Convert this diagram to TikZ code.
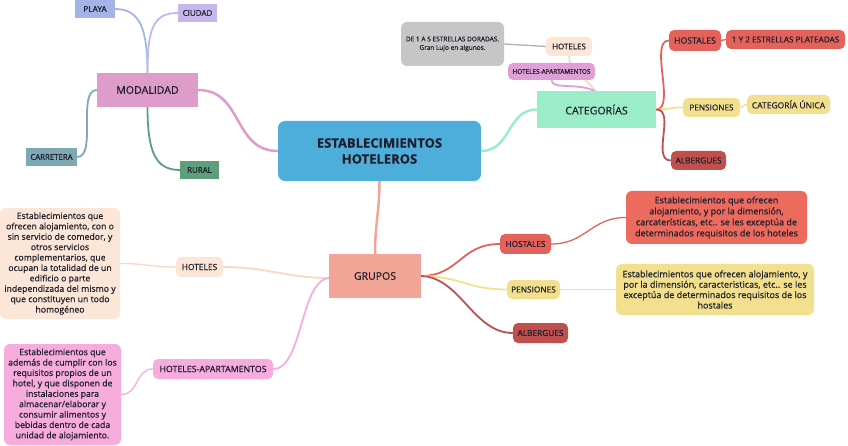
\documentclass[tikz,border=0pt]{standalone}
\usepackage{fontspec}
\setmainfont{Open Sans}[FakeBold=0.5]
\usetikzlibrary{backgrounds}
\hyphenpenalty=10000
\exhyphenpenalty=10000
\definecolor{cplaya}{HTML}{A3B5E6}
\definecolor{cciudad}{HTML}{C5B6EE}
\definecolor{cmod}{HTML}{DE9CCB}
\definecolor{ccarr}{HTML}{7EA9B4}
\definecolor{crural}{HTML}{5E9E7D}
\definecolor{ccen}{HTML}{4DAEDB}
\definecolor{cgray}{HTML}{C6C6C6}
\definecolor{cgrayline}{HTML}{B0B0B0}
\definecolor{cpeach}{HTML}{FCE6D8}
\definecolor{cpeachline}{HTML}{F6D9C6}
\definecolor{chap}{HTML}{DFA0D8}
\definecolor{ccat}{HTML}{9BEDCA}
\definecolor{cred}{HTML}{E3635C}
\definecolor{credd}{HTML}{EC6A5E}
\definecolor{cyel}{HTML}{F2E08E}
\definecolor{calb}{HTML}{C0504E}
\definecolor{cgrp}{HTML}{F2A496}
\definecolor{cpink}{HTML}{F6ACDC}
\definecolor{ctext}{HTML}{1E1E2A}
\tikzset{
  box/.style={draw=none, inner sep=0pt, align=center, text=ctext, font=\fontsize{8.5}{10}\selectfont},
  pill/.style={box, rounded corners=5pt},
  desc/.style={box, rounded corners=6pt, font=\fontsize{8.7}{10.4}\selectfont},
  link/.style={line width=1.8pt},
  thin/.style={line width=1.3pt},
  main/.style={line width=2.5pt},
}
\begin{document}
\begin{tikzpicture}[x=1pt,y=-1pt]
\useasboundingbox (0,0) rectangle (848,446);
% nodes
\node[box, fill=cplaya, minimum width=40pt, minimum height=18pt, font=\fontsize{8.3}{9}\selectfont] (playa) at (95,9) {PLAYA};
\node[box, fill=cciudad, minimum width=39pt, minimum height=18pt, font=\fontsize{8}{9}\selectfont] (ciudad) at (197.5,13) {CIUDAD};
\node[box, fill=cmod, minimum width=101pt, minimum height=34pt, font=\fontsize{10.6}{12}\selectfont] (mod) at (147.5,90) {MODALIDAD};
\node[box, fill=ccarr, minimum width=51pt, minimum height=18pt, font=\fontsize{7.8}{9}\selectfont] (carr) at (51.5,157) {CARRETERA};
\node[box, fill=crural, minimum width=39pt, minimum height=18pt, font=\fontsize{7.9}{9}\selectfont] (rural) at (199.5,170) {RURAL};
\node[box, fill=ccen, rounded corners=7pt, minimum width=203pt, minimum height=60pt, font=\fontsize{13}{16}\selectfont\bfseries] (cen) at (379.5,151) {ESTABLECIMIENTOS\\HOTELEROS};
\node[box, fill=cgray, rounded corners=6pt, minimum width=103pt, minimum height=44pt, font=\fontsize{6.5}{8.5}\selectfont] (gray) at (452.5,44) {DE 1 A 5 ESTRELLAS DORADAS.\\Gran Lujo en algunos.};
\node[pill, fill=cpeach, minimum width=46pt, minimum height=19pt, font=\fontsize{8}{9}\selectfont] (hott) at (569,46.5) {HOTELES};
\node[pill, fill=chap, minimum width=87pt, minimum height=17pt, font=\fontsize{6.4}{8}\selectfont] (hapt) at (551.5,71.5) {HOTELES-APARTAMENTOS};
\node[box, fill=ccat, minimum width=119pt, minimum height=37pt, font=\fontsize{10.6}{12}\selectfont] (cat) at (596.5,109.5) {CATEGORÍAS};
\node[pill, fill=cred, minimum width=52pt, minimum height=21pt, font=\fontsize{8.7}{10}\selectfont] (hostt) at (695,40.5) {HOSTALES};
\node[pill, fill=cred, minimum width=119pt, minimum height=19pt, font=\fontsize{8.2}{9}\selectfont] (estr) at (785.5,39.5) {1 Y 2 ESTRELLAS PLATEADAS};
\node[pill, fill=cyel, minimum width=57pt, minimum height=19pt, font=\fontsize{8.2}{9}\selectfont] (pent) at (711.5,107.5) {PENSIONES};
\node[pill, fill=cyel, minimum width=83pt, minimum height=19pt, font=\fontsize{8.5}{9}\selectfont] (unica) at (788.5,104.5) {CATEGORÍA ÚNICA};
\node[pill, fill=calb, minimum width=55pt, minimum height=19pt, font=\fontsize{8.3}{9}\selectfont] (albt) at (698.5,160.5) {ALBERGUES};
\node[box, fill=cgrp, minimum width=92pt, minimum height=44pt, font=\fontsize{10.5}{12}\selectfont] (grp) at (375,276) {GRUPOS};
\node[pill, fill=cpeach, minimum width=47pt, minimum height=20pt, font=\fontsize{8.4}{9}\selectfont] (hotl) at (199.5,267) {HOTELES};
\node[desc, fill=cpeach, minimum width=120pt, minimum height=111pt] (hotd) at (60,263.5) {Establecimientos que\\ofrecen alojamiento, con o\\sin servicio de comedor, y\\otros servicios\\complementarios, que\\ocupan la totalidad de un\\edificio o parte\\independizada del mismo y\\que constituyen un todo\\homogéneo};
\node[pill, fill=cpink, minimum width=120pt, minimum height=20pt, font=\fontsize{8.8}{10}\selectfont] (hapb) at (213,369) {HOTELES-APARTAMENTOS};
\node[desc, fill=cpink, minimum width=117pt, minimum height=101pt] (hapd) at (62.5,394.5) {Establecimientos que\\además de cumplir con los\\requisitos propios de un\\hotel, y que disponen de\\instalaciones para\\almacenar/elaborar y\\consumir alimentos y\\bebidas dentro de cada\\unidad de alojamiento.};
\node[pill, fill=cred, minimum width=51pt, minimum height=20pt, font=\fontsize{8.3}{9}\selectfont] (hostb) at (525.5,244) {HOSTALES};
\node[desc, fill=credd, minimum width=181pt, minimum height=53pt, font=\fontsize{9}{11}\selectfont] (hostd) at (716.5,217.5) {Establecimientos que ofrecen\\alojamiento, y por la dimensión,\\carcaterísticas, etc.. se les exceptúa de\\determinados requisitos de los hoteles};
\node[pill, fill=cyel, minimum width=53pt, minimum height=19pt, font=\fontsize{8.3}{9}\selectfont] (penb) at (533.5,289.5) {PENSIONES};
\node[desc, fill=cyel, minimum width=198pt, minimum height=51pt, font=\fontsize{9}{10.4}\selectfont] (pend) at (715,289.5) {Establecimientos que ofrecen alojamiento, y\\por la dimensión, caracteristicas, etc.. se les\\exceptúa de determinados requisitos de los\\hostales};
\node[pill, fill=calb, minimum width=55pt, minimum height=20pt, font=\fontsize{8.3}{9}\selectfont] (albb) at (540.5,333) {ALBERGUES};
\coordinate (catTop) at (596,92);
\coordinate (modTop) at (147.5,74);
\coordinate (modBot) at (147.5,106);
\coordinate (grpL) at (330,278);
\coordinate (grpR) at (420,276);
% connectors
\begin{scope}[on background layer]
\draw[main, cmod] (cen.west) .. controls +(-45,0) and +(45,0) .. (mod.east);
\draw[main, ccat] (cen.east) .. controls +(30,0) and +(-30,0) .. (cat.west);
\draw[main, cgrp] (cen.south) .. controls +(0,30) and +(0,-30) .. (grp.north);
\draw[link, cplaya] (modTop) .. controls +(0,-45) and +(25,0) .. (playa.east);
\draw[link, cciudad] (modTop) .. controls +(0,-45) and +(-25,0) .. (ciudad.west);
\draw[link, ccarr] (mod.west) .. controls +(-20,0) and +(20,0) .. (carr.east);
\draw[link, crural] (modBot) .. controls +(0,45) and +(-25,0) .. (rural.west);
\draw[link, cpeachline] (catTop) .. controls +(-10,-15) and +(0,15) .. (hott.south);
\draw[link, chap] (catTop) .. controls +(-15,-10) and +(0,10) .. (hapt.south);
\draw[thin, cgrayline] (hott.west) -- (gray.east);
\draw[link, cred] (cat.east) .. controls +(20,0) and +(-20,0) .. (hostt.west);
\draw[link, cyel] (cat.east) .. controls +(15,0) and +(-15,0) .. (pent.west);
\draw[link, calb] (cat.east) .. controls +(20,0) and +(-20,0) .. (albt.west);
\draw[thin, cred] (hostt.east) -- (estr.west);
\draw[thin, cyel] (pent.east) .. controls +(4,0) and +(-4,0) .. (unica.west);
\draw[link, cpeachline] (grpL) .. controls +(-45,0) and +(45,0) .. (hotl.east);
\draw[link, cpink] (grpL) .. controls +(-30,0) and +(30,0) .. (hapb.east);
\draw[link, cred] (grpR) .. controls +(40,0) and +(-40,0) .. (hostb.west);
\draw[link, cyel] (grpR) .. controls +(40,0) and +(-40,0) .. (penb.west);
\draw[link, calb] (grpR) .. controls +(40,0) and +(-40,0) .. (albb.west);
\draw[thin, cpeachline] (hotl.west) .. controls +(-25,0) and +(25,0) .. (hotd.east);
\draw[thin, cpink] (hapb.west) .. controls +(-18,0) and +(18,0) .. (hapd.east);
\draw[thin, cred] (hostb.east) .. controls +(35,0) and +(-35,0) .. (hostd.west);
\draw[thin, cyel] (penb.east) -- (pend.west);
\end{scope}
\end{tikzpicture}
\end{document}
